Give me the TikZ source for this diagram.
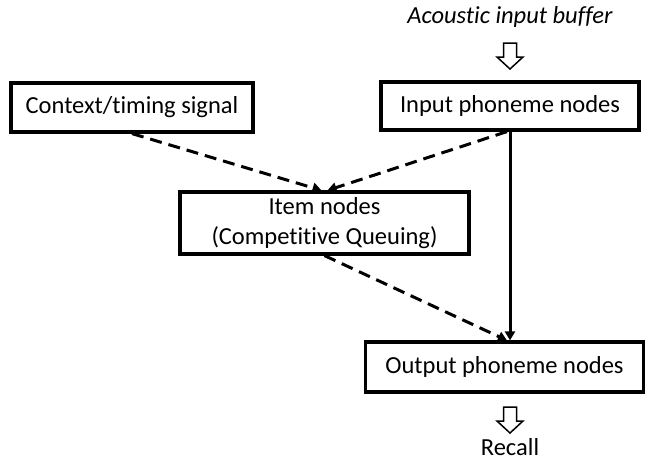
\documentclass[tikz,border=0pt]{standalone}
\usepackage{fontspec}
\setmainfont[Ligatures=NoCommon]{Carlito}
\usetikzlibrary{arrows.meta,calc}
\begin{document}
\begin{tikzpicture}[x=1pt,y=-1pt,
  box/.style={draw,line width=3.2pt,rectangle,inner sep=0pt,align=center,font=\fontsize{24.5}{30}\selectfont},
  dashedarrow/.style={line width=3pt,dash pattern=on 12pt off 7pt,-{Triangle[length=9pt,width=10pt]}},
  solidarrow/.style={line width=3pt,-{Triangle[length=9pt,width=10pt]}},
  hollowarrow/.style={draw,line width=1.5pt,fill=white,line join=miter},
  lbl/.style={inner sep=0pt,font=\fontsize{24.5}{30}\selectfont}]
\useasboundingbox (0,0) rectangle (646,461);
\node[box,minimum width=242pt,minimum height=49pt] (ctx) at (132,107.5) {Context/timing signal};
\node[box,minimum width=258pt,minimum height=48pt] (inp) at (510,106) {Input phoneme nodes};
\node[box,minimum width=289pt,minimum height=62pt] (item) at (324.5,223) {Item nodes\\(Competitive Queuing)};
\node[box,minimum width=278pt,minimum height=50pt] (out) at (504.5,367) {Output phoneme nodes};
\node[lbl,font=\fontsize{24.5}{30}\selectfont\itshape] (acoustic) at (510,17) {Acoustic input buffer};
\node[lbl] (recall) at (510,447) {Recall};
\coordinate (a1) at (510,43);
\coordinate (a2) at (510,407);
\draw[hollowarrow,shift={(a1)}] (-6.5,0) -- (-6.5,14) -- (-13,14) -- (0,26) -- (13,14) -- (6.5,14) -- (6.5,0) -- cycle;
\draw[hollowarrow,shift={(a2)}] (-6.5,0) -- (-6.5,14) -- (-13,14) -- (0,26) -- (13,14) -- (6.5,14) -- (6.5,0) -- cycle;
\draw[dashedarrow] (ctx.south) -- ($(item.north)+(-3,0)$);
\draw[dashedarrow] ($(inp.south)+(-3,0)$) -- ($(item.north)+(3,0)$);
\draw[dashedarrow] (item.south) -- ($(out.north)+(2.5,0)$);
\draw[solidarrow] (inp.south) -- (inp.south |- out.north);
\end{tikzpicture}
\end{document}
